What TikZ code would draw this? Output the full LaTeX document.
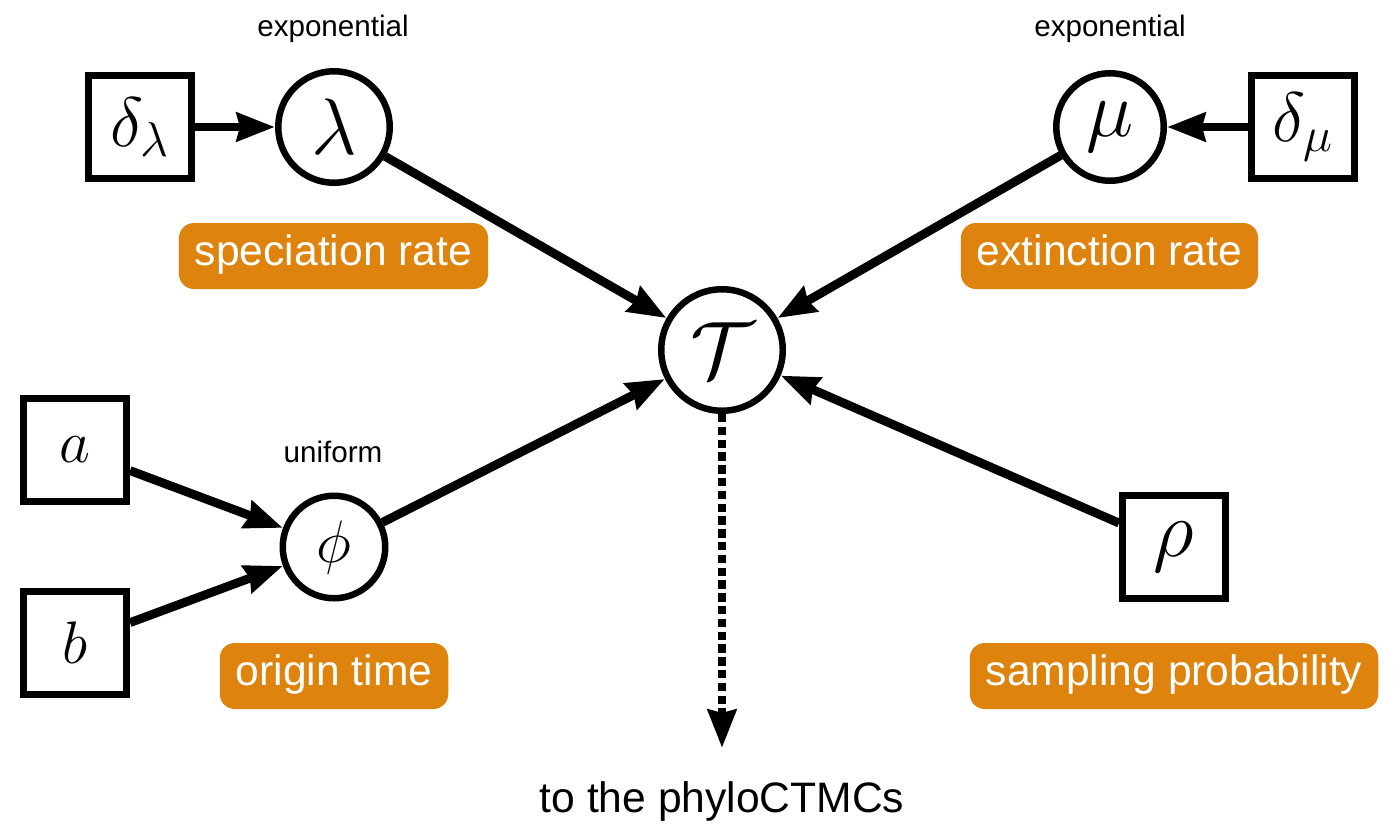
\RequirePackage{fix-cm}
\documentclass[tikz,border=0pt]{standalone}
\usepackage{fontspec}
\newfontfamily\labfont{Liberation Sans}
\usetikzlibrary{arrows.meta}
\definecolor{lblorange}{RGB}{222,131,14}
\begin{document}
\begin{tikzpicture}[x=0.5pt,y=-0.5pt,
  var/.style={circle,draw,line width=3.25pt,inner sep=0pt,font=\fontsize{40}{40}\selectfont},
  const/.style={rectangle,draw,line width=3.4pt,inner sep=0pt,minimum size=51.6pt,font=\fontsize{40}{40}\selectfont},
  smallmath/.style={font=\fontsize{30}{30}\selectfont},
  deltamath/.style={font=\fontsize{35}{35}\selectfont},
  lbl/.style={fill=lblorange,text=white,rounded corners=7.5pt,inner xsep=8pt,minimum height=33pt,
    text height=14.5pt,text depth=5pt,font=\labfont\fontsize{21.3}{24}\selectfont},
  plain/.style={font=\labfont\fontsize{21.3}{24}\selectfont},
  dist/.style={font=\labfont\fontsize{14.8}{16}\selectfont},
  arr/.style={line width=4.4pt,-{Stealth[length=19pt,width=14pt,inset=1.5pt]}},
  dotarr/.style={arr,dash pattern=on 4.2pt off 2.2pt},
]
\useasboundingbox (0,0) rectangle (1400,825);

\node[const,deltamath] (dl) at (140,127) {$\delta_\lambda$};
\node[var,minimum size=55.75pt] (lam) at (334,127) {$\lambda$};
\node[var,minimum size=53.75pt] (mu) at (1110,127) {$\mu$};
\node[const,deltamath] (dm) at (1303,127) {$\delta_\mu$};
\node[var,minimum size=60.75pt] (tau) at (722,350) {$\mathcal{T}$};
\node[const,smallmath] (a) at (75,450) {$a$};
\node[const,smallmath] (b) at (75,643) {$b$};
\node[var,smallmath,minimum size=51.25pt] (phi) at (334,547) {$\phi$};
\node[const] (rho) at (1174,547) {$\rho$};

\node[dist] (el) at (333,29) {exponential};
\node[dist] (em) at (1110,29) {exponential};
\node[dist] (un) at (333,452) {uniform};

\node[lbl] (lsp) at (333.5,256) {speciation rate};
\node[lbl] (lex) at (1109.5,256) {extinction rate};
\node[lbl] (lor) at (334,676) {origin time};
\node[lbl] (lsa) at (1174,676) {sampling probability};

\node[plain] (out) at (722,801) {to the phyloCTMCs};
\coordinate (outtip) at (722,748);

\draw[arr] (dl) -- (lam);
\draw[arr] (dm) -- (mu);
\draw[arr] (lam) -- (tau);
\draw[arr] (mu) -- (tau);
\draw[arr] (phi) -- (tau);
\draw[arr] (rho) -- (tau);
\draw[arr] (a) -- (phi);
\draw[arr] (b) -- (phi);
\draw[dotarr] (tau) -- (outtip);
\end{tikzpicture}
\end{document}
